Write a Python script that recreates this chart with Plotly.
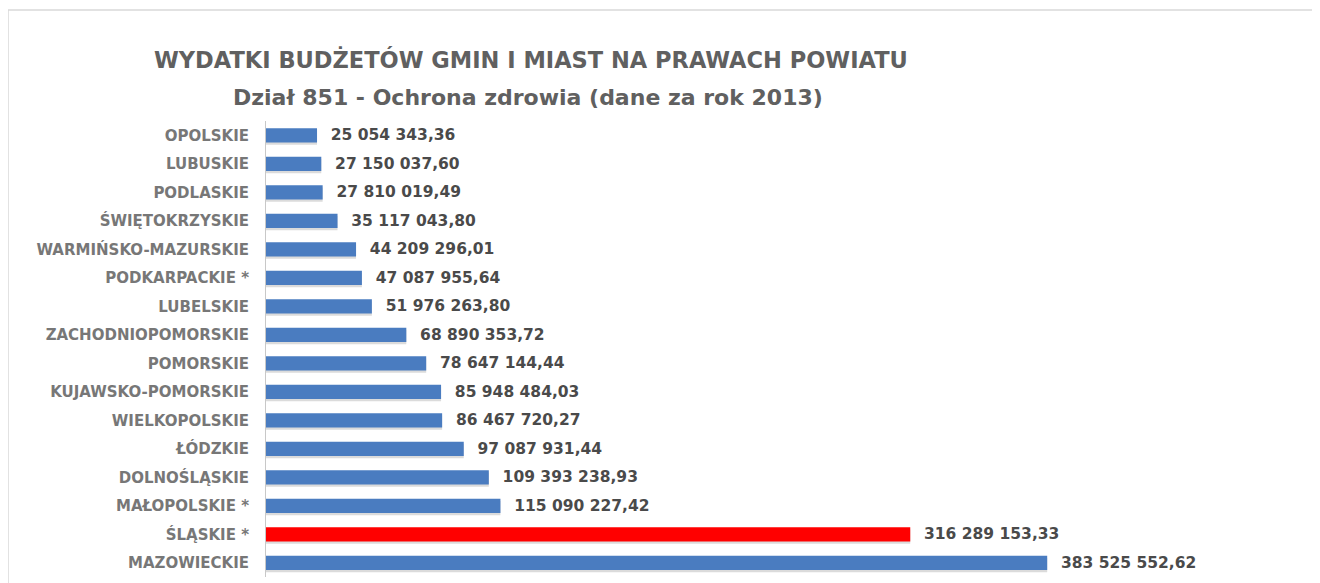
import plotly.graph_objects as go

categories = ["OPOLSKIE", "LUBUSKIE", "PODLASKIE", "ŚWIĘTOKRZYSKIE", "WARMIŃSKO-MAZURSKIE",
              "PODKARPACKIE *", "LUBELSKIE", "ZACHODNIOPOMORSKIE", "POMORSKIE",
              "KUJAWSKO-POMORSKIE", "WIELKOPOLSKIE", "ŁÓDZKIE", "DOLNOŚLĄSKIE",
              "MAŁOPOLSKIE *", "ŚLĄSKIE *", "MAZOWIECKIE"]
values = [25054343.36, 27150037.60, 27810019.49, 35117043.80, 44209296.01,
          47087955.64, 51976263.80, 68890353.72, 78647144.44, 85948484.03,
          86467720.27, 97087931.44, 109393238.93, 115090227.42, 316289153.33,
          383525552.62]
highlight = "ŚLĄSKIE *"
title_line1 = "WYDATKI BUDŻETÓW GMIN I MIAST NA PRAWACH POWIATU"
title_line2 = "Dział 851 - Ochrona zdrowia (dane za rok 2013)"

def fmt(v):
    s = f"{v:,.2f}"
    return s.replace(",", " ").replace(".", ",")

labels = ["  " + fmt(v) for v in values]
colors = ["#FF0000" if c == highlight else "#4A7CC0" for c in categories]

# figure geometry (page body adds an 8px offset)
L, T, W, H = 258, 113, 1049, 456
def px(x):
    return (x - 8 - L) / W
def py(y):
    return (T + H - (y - 8)) / H

FONT = "DejaVu Sans, sans-serif"

fig = go.Figure()
fig.add_trace(go.Bar(
    y=categories, x=values, orientation="h",
    marker=dict(color="rgba(0,0,0,0.14)", line=dict(width=0)),
    width=0.5, offset=-0.17, hoverinfo="skip", showlegend=False,
))
fig.add_trace(go.Bar(
    y=categories, x=values, orientation="h",
    marker=dict(color=colors, line=dict(width=0)),
    width=0.5, offset=-0.25,
    text=labels, textposition="outside", cliponaxis=False, constraintext="none",
    textfont=dict(family=FONT, size=15.5, color="#4a4a4a", weight="bold"),
    showlegend=False,
))

fig.update_layout(
    width=1320, height=583,
    margin=dict(l=L, r=1320 - L - W, t=T, b=583 - T - H, autoexpand=False),
    paper_bgcolor="white", plot_bgcolor="white",
    barmode="overlay",
    xaxis=dict(range=[0, 515e6], showgrid=False, showticklabels=False, zeroline=False,
               showline=False, fixedrange=True),
    yaxis=dict(autorange="reversed", showgrid=False, showline=True, linecolor="#C8C8C8",
               linewidth=1, ticks="", ticklabelstandoff=13, automargin=False,
               tickfont=dict(family=FONT, size=15, color="#777777", weight="bold")),
    font=dict(family=FONT),
    annotations=[
        dict(text=title_line1, xref="paper", yref="paper",
             x=px(531), y=py(60), xanchor="center", yanchor="middle",
             showarrow=False, font=dict(size=22.5, color="#606060", family=FONT, weight="bold")),
        dict(text=title_line2, xref="paper", yref="paper",
             x=px(528), y=py(97), xanchor="center", yanchor="middle",
             showarrow=False, font=dict(size=22, color="#606060", family=FONT, weight="bold")),
    ],
    shapes=[
        dict(type="rect", xref="paper", yref="paper",
             x0=px(8), x1=px(1340), y0=py(620), y1=py(10),
             line=dict(color="#D9D9D9", width=1.5), fillcolor="rgba(0,0,0,0)", layer="below"),
    ],
)

fig.write_html("out.html")
